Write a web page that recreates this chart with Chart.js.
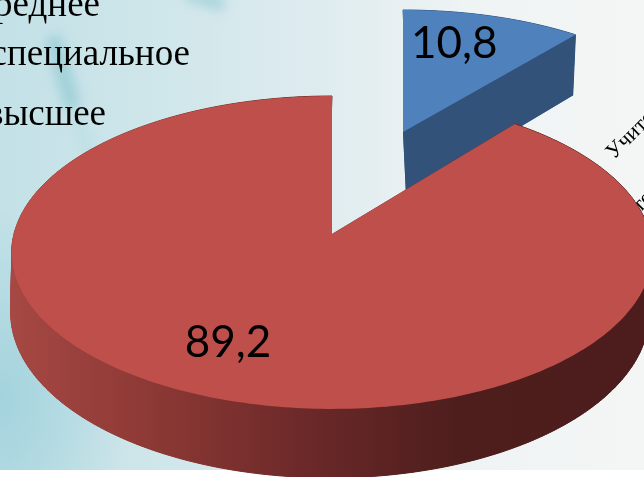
<!DOCTYPE html>
<html>
<head>
<meta charset="utf-8">
<title>Образование</title>
<script src="https://cdn.jsdelivr.net/npm/chart.js@4"></script>
<style>
  html, body { margin: 0; padding: 0; background: #fff; }
  #stage { position: relative; width: 644px; height: 477px; overflow: hidden; }
  #backdrop {
    position: absolute; left: 0; top: 0; width: 644px; height: 470px; overflow: hidden;
    background:
      radial-gradient(ellipse 130px 190px at 0px 400px, #a3d3dd 0%, rgba(163,211,221,0) 100%),
      linear-gradient(90deg, #c3e1e7 0%, #cfe6ea 25%, #dfecef 50%, #eef3f4 72%, #f4f6f5 100%);
  }
  .streak { position: absolute; filter: blur(6px); }
  #chart { position: absolute; left: 0; top: 0; }
</style>
</head>
<body>
<div id="stage">
  <div id="backdrop">
    <div class="streak" style="left:55px;top:35px;width:16px;height:75px;background:#9fd0d8;transform:rotate(-16deg)"></div>
    <div class="streak" style="left:78px;top:110px;width:10px;height:50px;background:#bcdfe4;transform:rotate(-22deg)"></div>
    <div class="streak" style="left:185px;top:-8px;width:40px;height:14px;background:#a9d4dc;transform:rotate(18deg)"></div>
  </div>
  <canvas id="chart" width="644" height="477"></canvas>
</div>
<script>
"use strict";

const categories = ["среднее специальное", "высшее"];
const values = [10.8, 89.2];
const sideLabels = ["среднее", "специальное", "высшее"];
const angledLabels = ["Учителя", "те"];

// perspective of each slice: top face and bottom face of the 3D pie
const views = [
  {
    top: { x: 403, y: 132, a: -120.8, c: 0.118, d: 300 },
    bottom: { x: 406, y: 195, a: -116.7, c: 0.118, d: 290 },
    face: "#4f81bd",
    wall: "#325279",
    label: { r: 0.74, dx: -17 },
  },
  {
    top: { x: 332, y: 234, a: -126.65, c: 0.118, d: 318 },
    bottom: { x: 330, y: 293.5, a: -128, c: 0.118, d: 317 },
    face: "#be4f4b",
    label: { r: 0.69, dx: -25 },
  },
];

function project(p, angle, r) {
  const u = Math.sin(angle) * r;
  const v = Math.cos(angle) * r;
  const w = 1 + p.c * v;
  return [p.x + (p.d * u) / w, (p.a * v + p.y) / w];
}

function slicePath(ctx, p, from, to) {
  ctx.beginPath();
  ctx.moveTo(p.x, p.y);
  const steps = Math.ceil((to - from) * 60);
  for (let i = 0; i <= steps; i++) {
    const pt = project(p, from + ((to - from) * i) / steps, 1);
    ctx.lineTo(pt[0], pt[1]);
  }
  ctx.closePath();
}

function wallFill(ctx, view) {
  if (view.wall) return view.wall;
  const g = ctx.createLinearGradient(12, 0, 644, 0);
  g.addColorStop(0, "#a64844");
  g.addColorStop(0.2, "#8f3a36");
  g.addColorStop(0.48, "#6a2828");
  g.addColorStop(0.7, "#4e1e1d");
  g.addColorStop(1, "#4c1d1c");
  return g;
}

function drawSlice(ctx, view, from, to) {
  const fill = wallFill(ctx, view);
  ctx.fillStyle = fill;
  ctx.strokeStyle = fill;
  ctx.lineWidth = 1;
  slicePath(ctx, view.bottom, from, to);
  ctx.fill();

  // wall between the two faces, rim and both cut edges
  const steps = Math.ceil((to - from) * 60);
  for (let i = 0; i < steps; i++) {
    const a0 = from + ((to - from) * i) / steps;
    const a1 = from + ((to - from) * (i + 1)) / steps;
    const q = [
      project(view.top, a0, 1),
      project(view.top, a1, 1),
      project(view.bottom, a1, 1),
      project(view.bottom, a0, 1),
    ];
    ctx.beginPath();
    q.forEach((pt, j) => (j ? ctx.lineTo(pt[0], pt[1]) : ctx.moveTo(pt[0], pt[1])));
    ctx.closePath();
    ctx.fill();
    ctx.stroke();
  }
  [from, to].forEach((angle) => {
    const t = project(view.top, angle, 1);
    const b = project(view.bottom, angle, 1);
    ctx.beginPath();
    ctx.moveTo(view.top.x, view.top.y);
    ctx.lineTo(t[0], t[1]);
    ctx.lineTo(b[0], b[1]);
    ctx.lineTo(view.bottom.x, view.bottom.y);
    ctx.closePath();
    ctx.fill();
  });

  ctx.fillStyle = view.face;
  slicePath(ctx, view.top, from, to);
  ctx.fill();
}

const pie3d = {
  id: "pie3d",
  beforeDatasetsDraw(chart) {
    const ctx = chart.ctx;
    const arcs = chart.getDatasetMeta(0).data;

    ctx.save();
    ctx.fillStyle = "#000";
    ctx.textBaseline = "alphabetic";

    // text behind the pie, cut off by the picture edges
    ctx.font = '37px "Liberation Serif"';
    ctx.textAlign = "right";
    ctx.fillText(sideLabels[0], 100, 16);
    ctx.fillText(sideLabels[1], 190, 65);
    ctx.fillText(sideLabels[2], 106, 125);

    ctx.font = '22px "Liberation Serif"';
    ctx.textAlign = "left";
    [[614, 160], [640, 213]].forEach((pos, i) => {
      ctx.save();
      ctx.translate(pos[0], pos[1]);
      ctx.rotate(-Math.PI / 4);
      ctx.fillText(angledLabels[i], 0, 0);
      ctx.restore();
    });

    arcs.forEach((arc, i) => {
      // chart.js angles start at 3 o'clock, the projection at 12
      drawSlice(ctx, views[i], arc.startAngle + Math.PI / 2, arc.endAngle + Math.PI / 2);
    });

    ctx.font = '44px "Lato"';
    ctx.textAlign = "center";
    ctx.textBaseline = "middle";
    arcs.forEach((arc, i) => {
      const mid = (arc.startAngle + arc.endAngle) / 2 + Math.PI / 2;
      const label = views[i].label;
      const pt = project(views[i].top, mid, label.r);
      ctx.fillStyle = "#000";
      ctx.fillText(String(values[i]).replace(".", ","), pt[0] + label.dx, pt[1]);
    });
    ctx.restore();
    return false;
  },
};

new Chart(document.getElementById("chart"), {
  type: "pie",
  data: {
    labels: categories,
    datasets: [{ data: values, backgroundColor: views.map((v) => v.face), borderWidth: 0 }],
  },
  options: {
    responsive: false,
    animation: false,
    plugins: { legend: { display: false }, tooltip: { enabled: false } },
  },
  plugins: [pie3d],
});
</script>
</body>
</html>
